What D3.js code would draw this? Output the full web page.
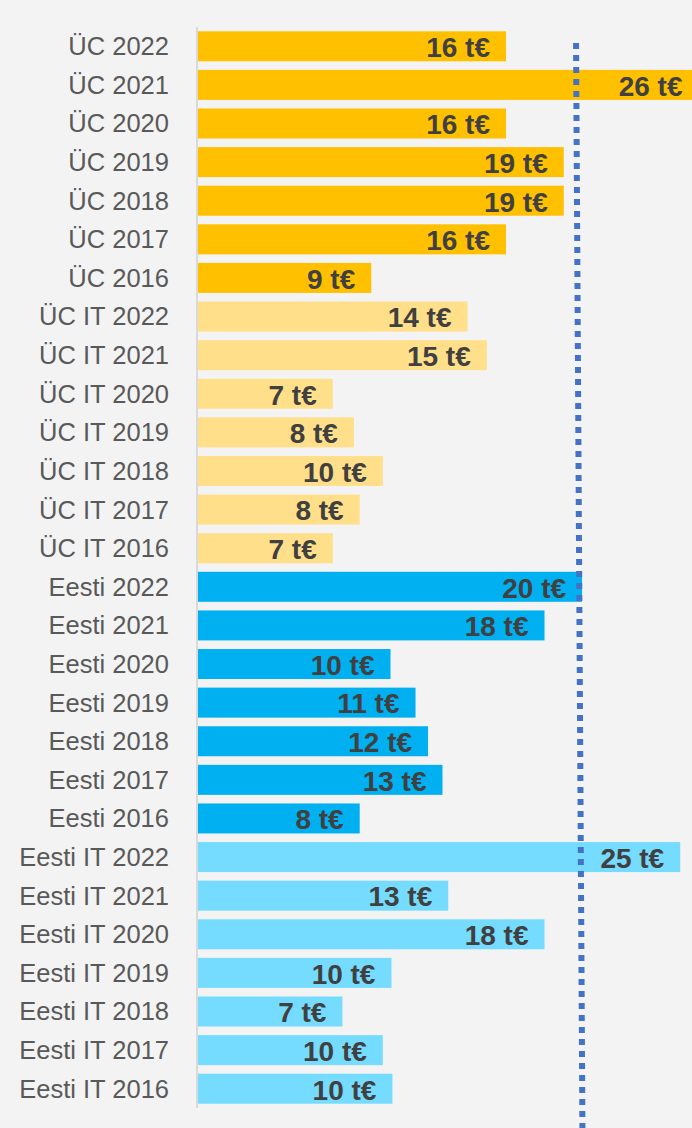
<!DOCTYPE html>
<html>
<head>
<meta charset="utf-8">
<script src="https://cdn.jsdelivr.net/npm/d3@7/dist/d3.min.js"></script>
<style>
  html, body { margin: 0; padding: 0; background: #f3f3f3; }
  svg { display: block; }
</style>
</head>
<body>
<div id="chart"></div>
<script>
// ---- data ----
const categories = [
  "ÜC 2022","ÜC 2021","ÜC 2020","ÜC 2019","ÜC 2018","ÜC 2017","ÜC 2016",
  "ÜC IT 2022","ÜC IT 2021","ÜC IT 2020","ÜC IT 2019","ÜC IT 2018","ÜC IT 2017","ÜC IT 2016",
  "Eesti 2022","Eesti 2021","Eesti 2020","Eesti 2019","Eesti 2018","Eesti 2017","Eesti 2016",
  "Eesti IT 2022","Eesti IT 2021","Eesti IT 2020","Eesti IT 2019","Eesti IT 2018","Eesti IT 2017","Eesti IT 2016"
];
const values = [
  16.0, 26.0, 16.0, 19.0, 19.0, 16.0, 9.0,
  14.0, 15.0, 7.0, 8.1, 9.6, 8.4, 7.0,
  19.95, 18.0, 10.0, 11.3, 11.95, 12.7, 8.4,
  25.05, 13.0, 18.0, 10.05, 7.5, 9.6, 10.1
];
const labels = [
  "16 t€","26 t€","16 t€","19 t€","19 t€","16 t€","9 t€",
  "14 t€","15 t€","7 t€","8 t€","10 t€","8 t€","7 t€",
  "20 t€","18 t€","10 t€","11 t€","12 t€","13 t€","8 t€",
  "25 t€","13 t€","18 t€","10 t€","7 t€","10 t€","10 t€"
];
const groups = [
  "ÜC","ÜC","ÜC","ÜC","ÜC","ÜC","ÜC",
  "ÜC IT","ÜC IT","ÜC IT","ÜC IT","ÜC IT","ÜC IT","ÜC IT",
  "Eesti","Eesti","Eesti","Eesti","Eesti","Eesti","Eesti",
  "Eesti IT","Eesti IT","Eesti IT","Eesti IT","Eesti IT","Eesti IT","Eesti IT"
];
const groupNames = ["ÜC", "ÜC IT", "Eesti", "Eesti IT"];
const groupColors = ["#ffc000", "#ffdf89", "#00b0f0", "#75dbff"];
// reference (dotted) line value at top and bottom
const refValues = [19.64, 19.97];

// ---- chart ----
const W = 692, H = 1128;
const svg = d3.select("#chart").append("svg")
  .attr("width", W).attr("height", H);

svg.append("rect").attr("width", W).attr("height", H).attr("fill", "#f3f3f3");

const x = d3.scaleLinear().domain([0, 26]).range([198, 198 + 26 * 19.25]);
const y = d3.scaleBand().domain(categories).range([27, 1108])
  .paddingInner(0.223).paddingOuter(0.111);
const color = d3.scaleOrdinal().domain(groupNames).range(groupColors);

const data = categories.map((c, i) => ({ c, v: values[i], l: labels[i], g: groups[i] }));

// bars
svg.append("g").selectAll("rect").data(data).join("rect")
  .attr("x", x(0))
  .attr("y", d => y(d.c))
  .attr("width", d => x(d.v) - x(0))
  .attr("height", y.bandwidth())
  .attr("fill", d => color(d.g));

// axis line (y axis)
const yAxis = d3.axisLeft(y).tickSize(0).tickPadding(28);
const gy = svg.append("g").attr("transform", `translate(${x(0) - 1},0)`).call(yAxis);
gy.select(".domain").attr("stroke", "#d9d9d9").attr("stroke-width", 2)
  .attr("d", `M0,27V1108`);
gy.selectAll(".tick text")
  .attr("fill", "#595959")
  .attr("font-family", "'Liberation Sans', Arial, sans-serif")
  .attr("font-size", 25.5)
  .attr("dy", "0.35em");

// reference dotted line
svg.append("line")
  .attr("x1", x(refValues[0])).attr("y1", 43)
  .attr("x2", x(refValues[1])).attr("y2", H)
  .attr("stroke", "#4472c4")
  .attr("stroke-width", 6)
  .attr("stroke-dasharray", "6,6");

// value labels
svg.append("g").selectAll("text").data(data).join("text")
  .attr("x", d => x(d.v) - 16)
  .attr("y", d => y(d.c) + y.bandwidth() / 2 + 1)
  .attr("dy", "0.35em")
  .attr("text-anchor", "end")
  .attr("font-family", "'Liberation Sans', Arial, sans-serif")
  .attr("font-weight", "bold")
  .attr("font-size", 28)
  .attr("fill", "#404040")
  .text(d => d.l);
</script>
</body>
</html>
